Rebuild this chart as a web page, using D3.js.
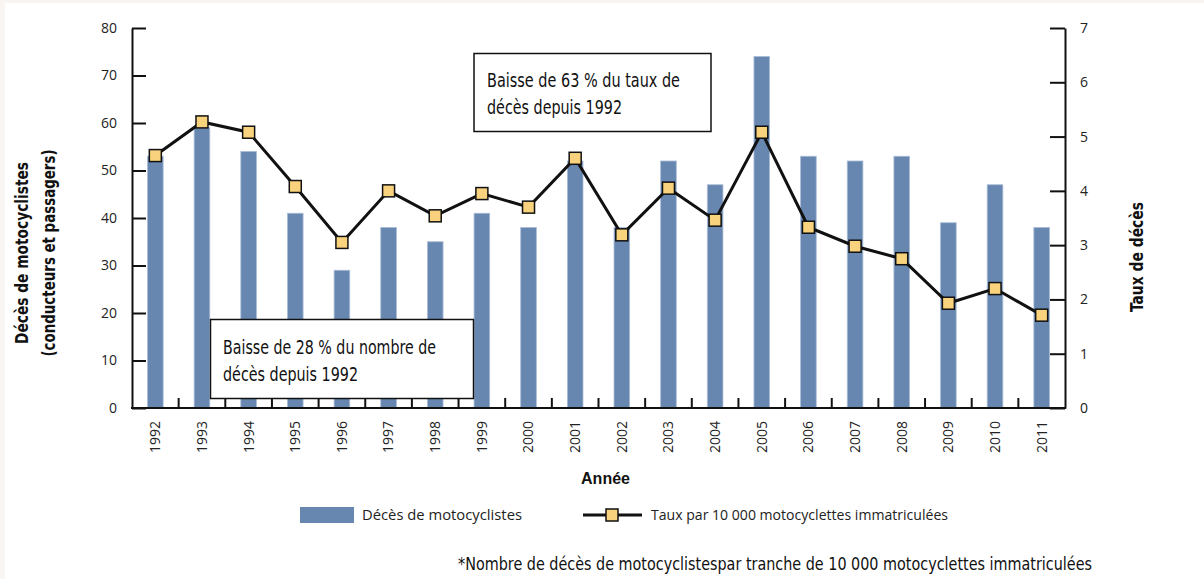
<!DOCTYPE html>
<html>
<head>
<meta charset="utf-8">
<script src="https://cdn.jsdelivr.net/npm/d3@7/dist/d3.min.js"></script>
<style>
  html, body { margin: 0; padding: 0; background: #ffffff; }
  svg { display: block; }
</style>
</head>
<body>
<svg id="chart" width="1204" height="579"></svg>
<script>
// ---- DATA ----
const years = ["1992","1993","1994","1995","1996","1997","1998","1999","2000","2001",
               "2002","2003","2004","2005","2006","2007","2008","2009","2010","2011"];
const deaths = [53, 59, 54, 41, 29, 38, 35, 41, 38, 52, 38, 52, 47, 74, 53, 52, 53, 39, 47, 38];
const rates  = [4.65, 5.27, 5.08, 4.08, 3.05, 4.0, 3.54, 3.95, 3.7, 4.6, 3.19, 4.05, 3.46, 5.08, 3.33, 2.98, 2.75, 1.93, 2.2, 1.71];
const leftTicks  = [0, 10, 20, 30, 40, 50, 60, 70, 80];
const rightTicks = [0, 1, 2, 3, 4, 5, 6, 7];
const leftTitle  = ["Décès de motocyclistes", "(conducteurs et passagers)"];
const rightTitle = "Taux de décès";
const xTitle = "Année";
const legendLabels = ["Décès de motocyclistes", "Taux par 10 000 motocyclettes immatriculées"];
const note1 = ["Baisse de 63 % du taux de", "décès depuis 1992"];
const note2 = ["Baisse de 28 % du nombre de", "décès depuis 1992"];
const footnote = "*Nombre de décès de motocyclistespar tranche de 10 000 motocyclettes immatriculées";

// ---- STYLE ----
const barFill = "#6787b1", barEdge = "#a9bcd6", markFill = "#f8d27c";
const condensed = "'Liberation Sans Narrow', 'DejaVu Sans Condensed', 'Roboto Condensed', sans-serif";
const regular = "'Open Sans', 'Liberation Sans', sans-serif";

const svg = d3.select("#chart");
svg.append("rect").attr("width", 1204).attr("height", 579).attr("fill", "#fff");
svg.append("rect").attr("x", 0).attr("y", 0).attr("width", 1204).attr("height", 3).attr("fill", "#f8f4f1");
svg.append("rect").attr("x", 0).attr("y", 0).attr("width", 5).attr("height", 579).attr("fill", "#f8f5f2");

const L = 132, R = 1065, T = 28, B = 408;
const x = d3.scaleBand().domain(years).range([L, R]).padding(0);
const yL = d3.scaleLinear().domain([0, 80]).range([B, T]);
const yR = d3.scaleLinear().domain([0, 7]).range([B, T]);
const barW = x.bandwidth() * 0.335;

// bars
svg.append("g").selectAll("rect").data(years).join("rect")
  .attr("x", (d) => x(d) + x.bandwidth() / 2 - barW / 2)
  .attr("y", (d, i) => yL(deaths[i]))
  .attr("width", barW)
  .attr("height", (d, i) => yL(0) - yL(deaths[i]))
  .attr("fill", barFill)
  .attr("stroke", barEdge).attr("stroke-width", 0.8);

// left axis
const gL = svg.append("g").attr("transform", `translate(${L},0)`)
  .call(d3.axisLeft(yL).tickValues(leftTicks).tickFormat(d3.format("d"))
    .tickSizeInner(-14).tickSizeOuter(0).tickPadding(15));
// right axis
const gR = svg.append("g").attr("transform", `translate(${R},0)`)
  .call(d3.axisRight(yR).tickValues(rightTicks).tickFormat(d3.format("d"))
    .tickSizeInner(-15).tickSizeOuter(0).tickPadding(15));
[gL, gR].forEach(g => {
  g.select(".domain").attr("stroke", "#111").attr("stroke-width", 2);
  g.selectAll(".tick line").attr("stroke", "#111").attr("stroke-width", 2);
  g.selectAll(".tick text").attr("font-family", regular).attr("font-size", 14).attr("fill", "#222");
});

// bottom axis: labels at band centres, ticks between categories
const gB = svg.append("g").attr("transform", `translate(0,${B})`)
  .call(d3.axisBottom(x).tickSize(0).tickPadding(0));
gB.select(".domain").remove();
gB.selectAll(".tick text")
  .attr("font-family", regular).attr("font-size", 14).attr("fill", "#222")
  .attr("transform", "rotate(-90)")
  .attr("text-anchor", "end")
  .attr("x", -13).attr("y", 0).attr("dy", "0.35em");
svg.append("line").attr("x1", L - 1).attr("x2", R + 1).attr("y1", B).attr("y2", B)
  .attr("stroke", "#111").attr("stroke-width", 2);
svg.append("g").selectAll("line").data(years.slice(1)).join("line")
  .attr("x1", d => x(d)).attr("x2", d => x(d))
  .attr("y1", B).attr("y2", B - 10)
  .attr("stroke", "#111").attr("stroke-width", 2);

// annotation boxes
function noteBox(lines, bx, by, bw, bh, tx, ty, widths) {
  const g = svg.append("g");
  g.append("rect").attr("x", bx).attr("y", by).attr("width", bw).attr("height", bh)
    .attr("fill", "#fff").attr("stroke", "#111").attr("stroke-width", 1.5);
  lines.forEach((t, i) => {
    g.append("text").attr("x", tx).attr("y", ty + i * 27)
      .attr("font-family", condensed).attr("font-size", 19).attr("fill", "#111").text(t)
      .attr("textLength", widths[i]).attr("lengthAdjust", "spacingAndGlyphs");
  });
}

// rate line + markers
const line = d3.line().x((d, i) => x(years[i]) + x.bandwidth() / 2).y(d => yR(d));
svg.append("path").datum(rates).attr("d", line)
  .attr("fill", "none").attr("stroke", "#111").attr("stroke-width", 3).attr("stroke-linejoin", "miter");
const ms = 12;
svg.append("g").selectAll("rect").data(rates).join("rect")
  .attr("x", (d, i) => x(years[i]) + x.bandwidth() / 2 - ms / 2)
  .attr("y", d => yR(d) - ms / 2)
  .attr("width", ms).attr("height", ms)
  .attr("fill", markFill).attr("stroke", "#111").attr("stroke-width", 1.5);

noteBox(note1, 474, 53.5, 237, 78, 487, 87, [193, 135]);
noteBox(note2, 210.5, 319.5, 263, 79, 223, 354, [213, 135]);

// axis titles
svg.append("text").attr("transform", `translate(28,253) rotate(-90)`)
  .attr("text-anchor", "middle").attr("font-family", condensed).attr("font-weight", "bold")
  .attr("font-size", 18).attr("fill", "#111").text(leftTitle[0])
  .attr("textLength", 182).attr("lengthAdjust", "spacingAndGlyphs");
svg.append("text").attr("transform", `translate(55,253) rotate(-90)`)
  .attr("text-anchor", "middle").attr("font-family", condensed).attr("font-weight", "bold")
  .attr("font-size", 18).attr("fill", "#111").text(leftTitle[1])
  .attr("textLength", 207).attr("lengthAdjust", "spacingAndGlyphs");
svg.append("text").attr("transform", `translate(1143,257) rotate(-90)`)
  .attr("text-anchor", "middle").attr("font-family", condensed).attr("font-weight", "bold")
  .attr("font-size", 18).attr("fill", "#111").text(rightTitle)
  .attr("textLength", 110).attr("lengthAdjust", "spacingAndGlyphs");
svg.append("text").attr("x", (L + R) / 2 + 7).attr("y", 484)
  .attr("text-anchor", "middle").attr("font-family", "'Liberation Sans', Arial, sans-serif")
  .attr("font-weight", "bold").attr("font-size", 16).attr("fill", "#111").text(xTitle);

// legend
const lg = svg.append("g");
lg.append("rect").attr("x", 300).attr("y", 507).attr("width", 54).attr("height", 16).attr("fill", barFill);
lg.append("text").attr("x", 362).attr("y", 520).attr("font-family", regular).attr("font-size", 14)
  .attr("fill", "#222").text(legendLabels[0]).attr("textLength", 160).attr("lengthAdjust", "spacingAndGlyphs");
lg.append("line").attr("x1", 583).attr("x2", 642).attr("y1", 515).attr("y2", 515)
  .attr("stroke", "#111").attr("stroke-width", 3);
lg.append("rect").attr("x", 606).attr("y", 509).attr("width", ms).attr("height", ms)
  .attr("fill", markFill).attr("stroke", "#111").attr("stroke-width", 1.5);
lg.append("text").attr("x", 651).attr("y", 520).attr("font-family", regular).attr("font-size", 14)
  .attr("fill", "#222").text(legendLabels[1]).attr("textLength", 297).attr("lengthAdjust", "spacingAndGlyphs");

// footnote
svg.append("text").attr("x", 458).attr("y", 570).attr("font-family", condensed).attr("font-size", 18)
  .attr("fill", "#111").text(footnote).attr("textLength", 634).attr("lengthAdjust", "spacingAndGlyphs");
</script>
</body>
</html>
